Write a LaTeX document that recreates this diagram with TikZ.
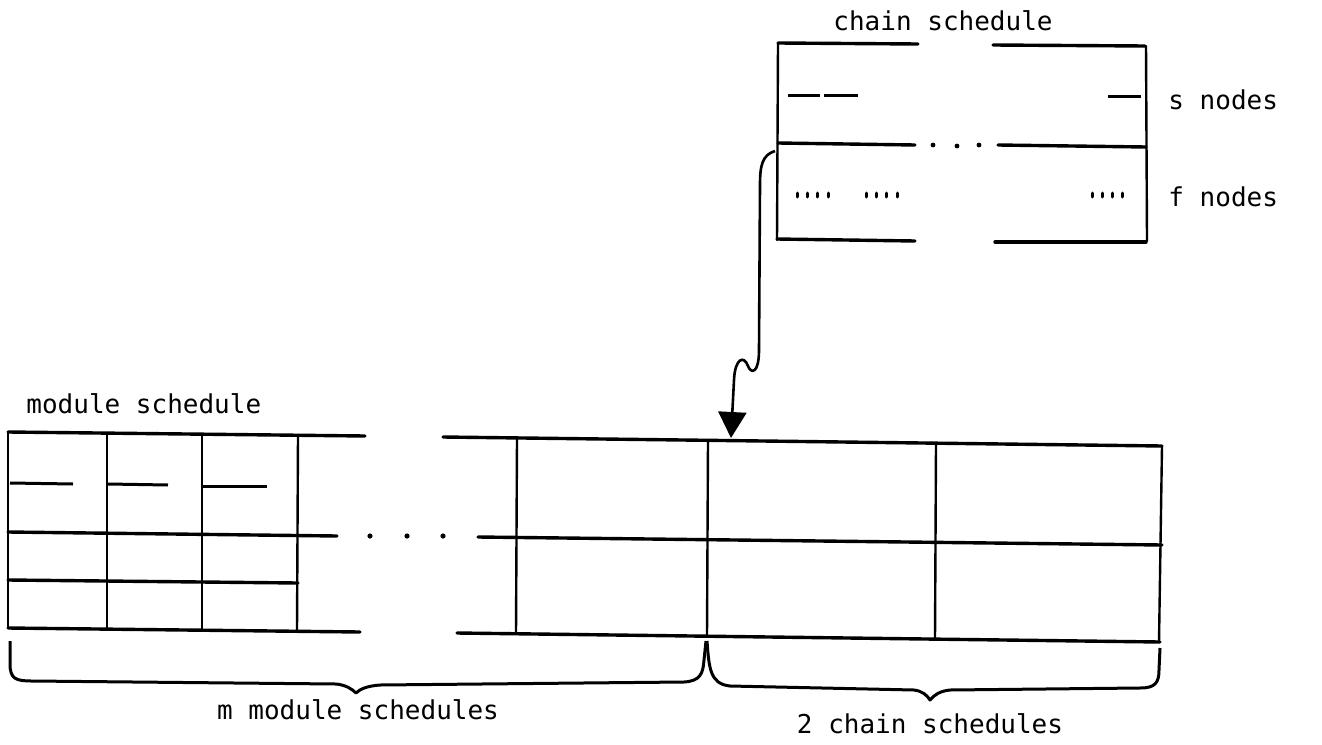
\documentclass[tikz,border=0pt]{standalone}
\usepackage{fontspec}
\newfontfamily\lblfont{DejaVu Sans Mono}
\usetikzlibrary{arrows.meta}
\tikzset{
  hline/.style={line width=1.7pt, line cap=round},
  vline/.style={line width=1.2pt, line cap=round},
  dashmark/.style={line width=1.5pt},
  tickmark/.style={line width=1.5pt, line cap=round},
  dotmark/.style={fill=black, draw=none},
  bracepath/.style={line width=1.5pt, line join=round},
  lbl/.style={font=\lblfont\fontsize{13}{15}\selectfont, inner sep=0pt},
  bigarrow/.style={line width=1.3pt, -{Triangle[length=13pt,width=14pt]}}
}
\begin{document}
\begin{tikzpicture}[x=0.5pt,y=-0.5pt]
\useasboundingbox (0,0) rectangle (1322,744);

% ---------- chain schedule box ----------
\node[lbl] (ctitle) at (943,21) {chain schedule};
\draw[hline] (778,43) -- (918,44);
\draw[hline] (993,45) -- (1145,46);
\draw[vline] (778,43) -- (777,240);
\draw[vline] (1146,46) -- (1147,241);
\draw[hline] (778,143) -- (915,145);
\fill[dotmark] (933,145) circle (2.4);
\fill[dotmark] (957,146) circle (2.4);
\fill[dotmark] (979,145) circle (2.4);
\draw[hline] (998,145) -- (1146,147);
\draw[hline] (777,239) -- (915,241);
\draw[hline] (995,242) -- (1146,242);
% s node marks
\draw[dashmark] (788,95) -- (820,95);
\draw[dashmark] (824,95) -- (858,95);
\draw[dashmark] (1108,96) -- (1141,96);
% f node marks
\foreach \x in {797,807,817,828,866,876,886,897,1092,1102,1112,1122}
  \draw[tickmark] (\x,193) -- (\x,197);
\node[lbl, anchor=west] (snodes) at (1168,100) {s nodes};
\node[lbl, anchor=west] (fnodes) at (1168,197) {f nodes};

% ---------- module schedule grid ----------
\node[lbl, anchor=west] (mtitle) at (26,404) {module schedule};
\draw[hline] (8,432) -- (365,436);
\draw[hline] (8,532) -- (337,536);
\draw[hline] (8,580) -- (298,583);
\draw[hline] (8,628) -- (360,632);
\draw[vline] (8,432) -- (8,628);
\draw[vline] (107,433) -- (107,629);
\draw[vline] (202,434) -- (202,630);
\draw[vline] (298,435) -- (297,631);
\draw[dashmark] (10,483) -- (73,484);
\draw[dashmark] (108,484) -- (168,485);
\draw[dashmark] (203,486) -- (267,486);
% ellipsis
\fill[dotmark] (370,536) circle (2.6);
\fill[dotmark] (407,536) circle (2.6);
\fill[dotmark] (443,536) circle (2.6);

% ---------- chain schedule grid ----------
\draw[hline] (443,437) -- (1162,446);
\draw[hline] (478,537) -- (1162,545);
\draw[hline] (457,633) -- (1160,642);
\draw[vline] (517,438) -- (516,634);
\draw[vline] (708,440) -- (707,636);
\draw[vline] (936,443) -- (935,639);
\draw[vline] (1162,446) -- (1159,642);

% ---------- arrow ----------
\coordinate (src) at (775,151);
\coordinate (dst) at (731,438);
\draw[bigarrow] (src) .. controls (762,155) and (760,166) .. (760,185)
  -- (759,350) .. controls (759,374) and (751,374) .. (748,366)
  .. controls (744,355) and (735,358) .. (734,380) -- (dst);

% ---------- braces ----------
\draw[bracepath] (10,641) -- (10,664) .. controls (10,679) and (16,681) .. (32,681)
  -- (336,684) .. controls (346,685) and (352,689) .. (356,693)
  .. controls (360,689) and (367,686) .. (380,685)
  -- (684,682) .. controls (700,681) and (703,674) .. (704,660) -- (706,641);
\draw[bracepath] (707,641) .. controls (709,668) and (710,684) .. (730,686)
  -- (914,690) .. controls (922,691) and (927,695) .. (930,700)
  .. controls (934,695) and (940,691) .. (950,690)
  -- (1140,688) .. controls (1155,688) and (1159,683) .. (1159,670) -- (1160,648);
\node[lbl] (mlabel) at (358,710) {m module schedules};
\node[lbl] (clabel) at (930,724) {2 chain schedules};
\end{tikzpicture}
\end{document}
